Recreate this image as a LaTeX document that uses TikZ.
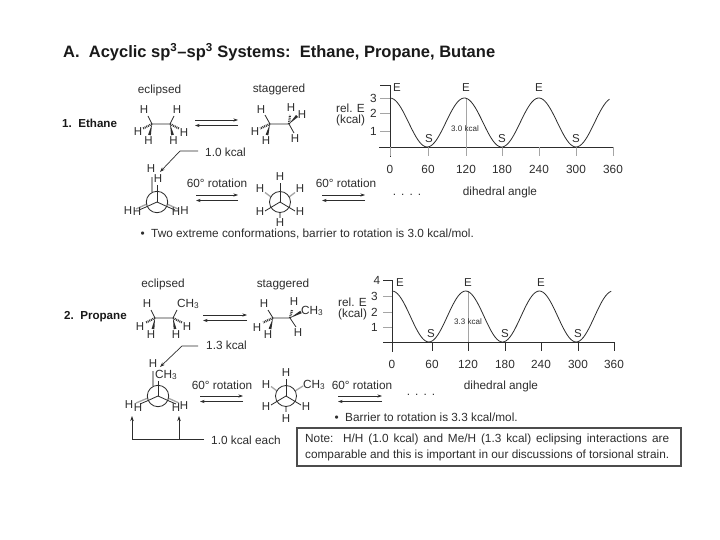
\documentclass[tikz,border=0pt]{standalone}
\usepackage{fontspec}
\setmainfont{Liberation Sans}
\usetikzlibrary{arrows.meta,calc}
\definecolor{inkdark}{RGB}{45,45,45}
\definecolor{inkgray}{RGB}{165,165,165}
\newcommand{\wedgeb}[2]{\fill[inkdark] (#1) -- ($(#2)!1.4pt!90:(#1)$) -- ($(#2)!1.4pt!-90:(#1)$) -- cycle;}
\newcommand{\eqarr}[4]{%
  \coordinate (#1r) at (#2,#4); \coordinate (#1l) at (#3,#4);
  \draw[eqline] (#1r) -- (#1l);
  \coordinate (#1s) at (#3,{#4+5.5}); \coordinate (#1e) at (#2,{#4+5.5});
  \draw[eqline] (#1s) -- (#1e);}
\newcommand{\fourdots}{.\hspace{5pt}.\hspace{5pt}.\hspace{5pt}.}
\tikzset{
  txt/.style={font=\fontsize{11.8}{13}\selectfont, text=inkdark, inner sep=0pt},
  ltxt/.style={txt, anchor=west},
  atom/.style={txt, font=\fontsize{11.5}{13}\selectfont},
  ttl/.style={font=\bfseries\fontsize{16.5}{19}\selectfont, text=black!90, inner sep=0pt, anchor=west},
  lbl/.style={font=\bfseries\fontsize{11.6}{13}\selectfont, text=black!90, inner sep=0pt, anchor=west},
  smalltxt/.style={font=\fontsize{8}{10}\selectfont, text=inkdark, inner sep=0pt},
  bond/.style={draw=inkdark, line width=0.8pt},
  hashb/.style={draw=inkdark, line width=2.2pt, dash pattern=on 0.9pt off 0.9pt},
  rear/.style={draw=inkgray, line width=1.3pt},
  ring/.style={draw=inkdark, line width=0.8pt},
  eqline/.style={draw=inkdark, line width=0.6pt, -{Stealth[length=4.5pt,width=3pt]}},
  leader/.style={draw=inkdark, line width=0.7pt, -{Stealth[length=5pt,width=3.5pt]}},
  axis/.style={draw=inkdark, line width=0.8pt},
  tick/.style={draw=inkgray, line width=0.8pt},
  curve/.style={draw=inkdark, line width=0.8pt},
  notebox/.style={draw=black!70, line width=1.2pt, fill=white}
}
\begin{document}
\begin{tikzpicture}[x=1pt, y=-1pt]
  \useasboundingbox (0,0) rectangle (720,540);
  \fill[white] (0,0) rectangle (720,540);
  \node[ttl] (title) at (63,52) {A.\ \ Acyclic sp\textsuperscript{3}–sp\textsuperscript{3} Systems:\ \ Ethane, Propane, Butane};
  % ethane, sawhorse
  \node[lbl] (ethlbl) at (62,123) {1.\ \ Ethane};
  \node[txt] (ethecl) at (159.5,90) {eclipsed};
  \node[txt] (ethsta) at (279,89) {staggered};
  \foreach \hx/\hy [count=\i] in {144/110,177/110,138/132,148.5/141,173.5/141,184/133,261/110,291/108,302/115,255/132,266/141,295/139}
    \node[atom] (ethH\i) at (\hx,\hy) {H};
  \coordinate (ca) at (152,124); \coordinate (cb) at (170,124);
  \draw[bond] (148,116) -- (ca) -- (cb) -- (174,116);
  \wedgeb{ca}{149.5,135} \wedgeb{cb}{172.5,135}
  \draw[hashb] (ca) -- (143,128.5);
  \draw[hashb] (cb) -- (179,128.5);
  \eqarr{etha}{195}{238}{120}
  \coordinate (cc) at (270,124); \coordinate (cd) at (289,124);
  \draw[bond] (265,115) -- (cc) -- (cd) -- (294,133);
  \wedgeb{cc}{267,135} \wedgeb{cd}{297,116}
  \draw[hashb] (cc) -- (260,128.5);
  \draw[hashb] (cd) -- (290,115);
  \node[ltxt] (ethrel) at (336,108) {rel. E};
  \node[ltxt] (ethkc) at (336,120) {(kcal)};
  % ethane, newman
  \node[ltxt] (ethkcal) at (205,152) {1.0 kcal};
  \coordinate (lda) at (198,151); \coordinate (ldb) at (180,151); \coordinate (ldc) at (160,172);
  \draw[leader] (lda) -- (ldb) -- (ldc);
  \coordinate (na) at (157,202);
  \draw[rear] (152,192) -- (152,177);
  \draw[rear] (147,204) -- (136,209);
  \draw[rear] (167,204) -- (178,209);
  \draw[ring] (na) circle (10.7);
  \draw[bond] (na) -- (157,185);
  \draw[bond] (na) -- (146,207) -- (139,210);
  \draw[bond] (na) -- (168,207) -- (175,210);
  \foreach \hx/\hy [count=\i] in {151/168.5,158/179,128/211,137/212,176/212,184.5/211}
    \node[atom] (ethN\i) at (\hx,\hy) {H};
  \node[txt] (ethrota) at (217,183) {60° rotation};
  \eqarr{ethb}{196}{238}{195}
  \coordinate (nb) at (280,202);
  \draw[rear] (280,212) -- (280,218);
  \draw[rear] (271,197) -- (265,192.5);
  \draw[rear] (289,197) -- (295,192.5);
  \draw[ring] (nb) circle (10.5);
  \draw[bond] (nb) -- (280,183);
  \draw[bond] (nb) -- (265,211);
  \draw[bond] (nb) -- (295,211);
  \foreach \hx/\hy [count=\i] in {280/177,260/189,300/189,260/212,300/212,280/223}
    \node[atom] (ethS\i) at (\hx,\hy) {H};
  \node[txt] (ethrotb) at (346,183) {60° rotation};
  \eqarr{ethc}{322}{365}{195}
  \node[txt] (ethdots) at (407,195) {\fourdots};
  \node[ltxt] (ethnote) at (151,234) {\llap{•\ \ }Two extreme conformations, barrier to rotation is 3.0 kcal/mol.};
  % ethane, energy plot
  \draw[axis] (380,85) -- (390,85) -- (390,157);
  \draw[axis] (379,147) -- (613,147);
  \foreach \yv/\yy in {3/98,2/113,1/131}
    \draw[tick] (380,\yy) -- (390,\yy) node[txt, pos=0, left=3pt] (etht\yv) {\yv};
  \foreach \xt/\xl in {390/0,428/60,466/120,502/180,539/240,576/300,613/360} {
    \draw[tick] (\xt,147) -- (\xt,156);
    \node[txt] (ethx\xl) at (\xt,169) {\xl};
  }
  \draw[tick, line width=0.5pt] (466,98) -- (466,147);
  \draw[curve] plot[smooth, domain=0:354, samples=120] ({390+0.62*\x},{122.5-24.5*cos(3*\x)});
  \foreach \ex/\i in {397/1,466/2,539/3}
    \node[atom] (ethE\i) at (\ex,88) {E};
  \foreach \sx/\i in {429/1,502/2,576/3}
    \node[atom] (ethG\i) at (\sx,139) {S};
  \node[smalltxt] (ethbar) at (465,129) {3.0 kcal};
  \node[txt] (ethang) at (500,192) {dihedral angle};
  % propane, sawhorse
  \node[lbl] (prolbl) at (64,317) {2.\ \ Propane};
  \node[txt] (proecl) at (163,284) {eclipsed};
  \node[txt] (prosta) at (283,284) {staggered};
  \foreach \hx/\hy [count=\i] in {147/304,140/327,151/335,176/335,187/327,264/304,294/302,257/328,268/335,298/333}
    \node[atom] (proH\i) at (\hx,\hy) {H};
  \node[ltxt] (proma) at (177,304) {CH\textsubscript{3}};
  \node[ltxt] (promb) at (301,311) {CH\textsubscript{3}};
  \coordinate (ce) at (155,318); \coordinate (cf) at (173,318);
  \draw[bond] (151,310) -- (ce) -- (cf) -- (177,310);
  \wedgeb{ce}{153,329} \wedgeb{cf}{175,329}
  \draw[hashb] (ce) -- (146,322.5);
  \draw[hashb] (cf) -- (182,322.5);
  \eqarr{proa}{203}{247}{315}
  \coordinate (cg) at (273,318); \coordinate (ch) at (290,318);
  \draw[bond] (268,310) -- (cg) -- (ch) -- (296,327);
  \wedgeb{cg}{270,329} \wedgeb{ch}{301,312}
  \draw[hashb] (cg) -- (263,322.5);
  \draw[hashb] (ch) -- (292,310);
  \node[ltxt] (prorel) at (338,302) {rel. E};
  \node[ltxt] (prokc) at (338,314) {(kcal)};
  % propane, newman
  \node[ltxt] (prokcal) at (206,345.5) {1.3 kcal};
  \coordinate (lea) at (198,346); \coordinate (leb) at (182,346); \coordinate (lec) at (160,367);
  \draw[leader] (lea) -- (leb) -- (lec);
  \coordinate (nc) at (158,396);
  \draw[rear] (153,386) -- (153,371);
  \draw[rear] (148,398) -- (136,403);
  \draw[rear] (168,398) -- (179,403);
  \draw[ring] (nc) circle (10.7);
  \draw[bond] (nc) -- (158,381);
  \draw[bond] (nc) -- (147,401) -- (140,404);
  \draw[bond] (nc) -- (169,401) -- (176,404);
  \foreach \hx/\hy [count=\i] in {153/363.5,129/405,138/408,176/408,184/406}
    \node[atom] (proN\i) at (\hx,\hy) {H};
  \node[ltxt] (promc) at (155,375) {CH\textsubscript{3}};
  \node[txt] (prorota) at (222,385) {60° rotation};
  \eqarr{prob}{200}{243}{396}
  \coordinate (nd) at (286,396);
  \draw[rear] (286,406) -- (286,412);
  \draw[rear] (277,391) -- (271,386.5);
  \draw[rear] (295,391) -- (303,386);
  \draw[ring] (nd) circle (10.5);
  \draw[bond] (nd) -- (286,379);
  \draw[bond] (nd) -- (271,405);
  \draw[bond] (nd) -- (301,405);
  \foreach \hx/\hy [count=\i] in {286/373,266/385,266/407,306/407,286/419}
    \node[atom] (proS\i) at (\hx,\hy) {H};
  \node[ltxt] (promd) at (303,385) {CH\textsubscript{3}};
  \node[txt] (prorotb) at (362,385) {60° rotation};
  \eqarr{proc}{338}{382}{396}
  \node[txt] (prodots) at (421,395) {\fourdots};
  \node[ltxt] (pronote) at (345,417) {\llap{•\ \ }Barrier to rotation is 3.3 kcal/mol.};
  % eclipsing arrows
  \node[ltxt] (proeach) at (211,440) {1.0 kcal each};
  \coordinate (eb) at (204,439); \coordinate (ec) at (132,439);
  \coordinate (ed) at (132,416); \coordinate (ee) at (179,439); \coordinate (ef) at (179,416);
  \draw[leader] (eb) -- (ec) -- (ed);
  \draw[leader] (ee) -- (ef);
  % propane, energy plot
  \draw[axis] (383,280) -- (392,280) -- (392,352);
  \draw[axis] (383,342) -- (615,342);
  \node[txt] (prot4) at (377,280) {4};
  \foreach \yv/\yy in {3/296,2/312,1/327}
    \draw[tick] (383,\yy) -- (392,\yy) node[txt, pos=0, left=5pt] (prot\yv) {\yv};
  \foreach \xt/\xl in {392/0,432/60,468/120,505/180,541/240,578/300,614/360} {
    \draw[axis] (\xt,342) -- (\xt,351);
    \node[txt] (prox\xl) at (\xt,364) {\xl};
  }
  \draw[tick, line width=0.5pt] (468,291) -- (468,342);
  \draw[curve] plot[smooth, domain=0:357, samples=120] ({392+0.6139*\x},{316.5-25.5*cos(3*\x)});
  \foreach \ex/\i in {400/1,468/2,541/3}
    \node[atom] (proE\i) at (\ex,283) {E};
  \foreach \sx/\i in {431/1,505/2,578/3}
    \node[atom] (proG\i) at (\sx,334) {S};
  \node[smalltxt] (probar) at (468,322) {3.3 kcal};
  \node[txt] (proang) at (501,386) {dihedral angle};
  % note
  \draw[notebox] (297,428) rectangle (681,466);
  \node[ltxt] (notea) at (305,439) {\makebox[364pt][s]{Note:\ \ H/H (1.0 kcal) and Me/H (1.3 kcal) eclipsing interactions are}};
  \node[ltxt] (noteb) at (305,455) {\makebox[364pt][s]{comparable and this is important in our discussions of torsional strain.}};
\end{tikzpicture}
\end{document}
